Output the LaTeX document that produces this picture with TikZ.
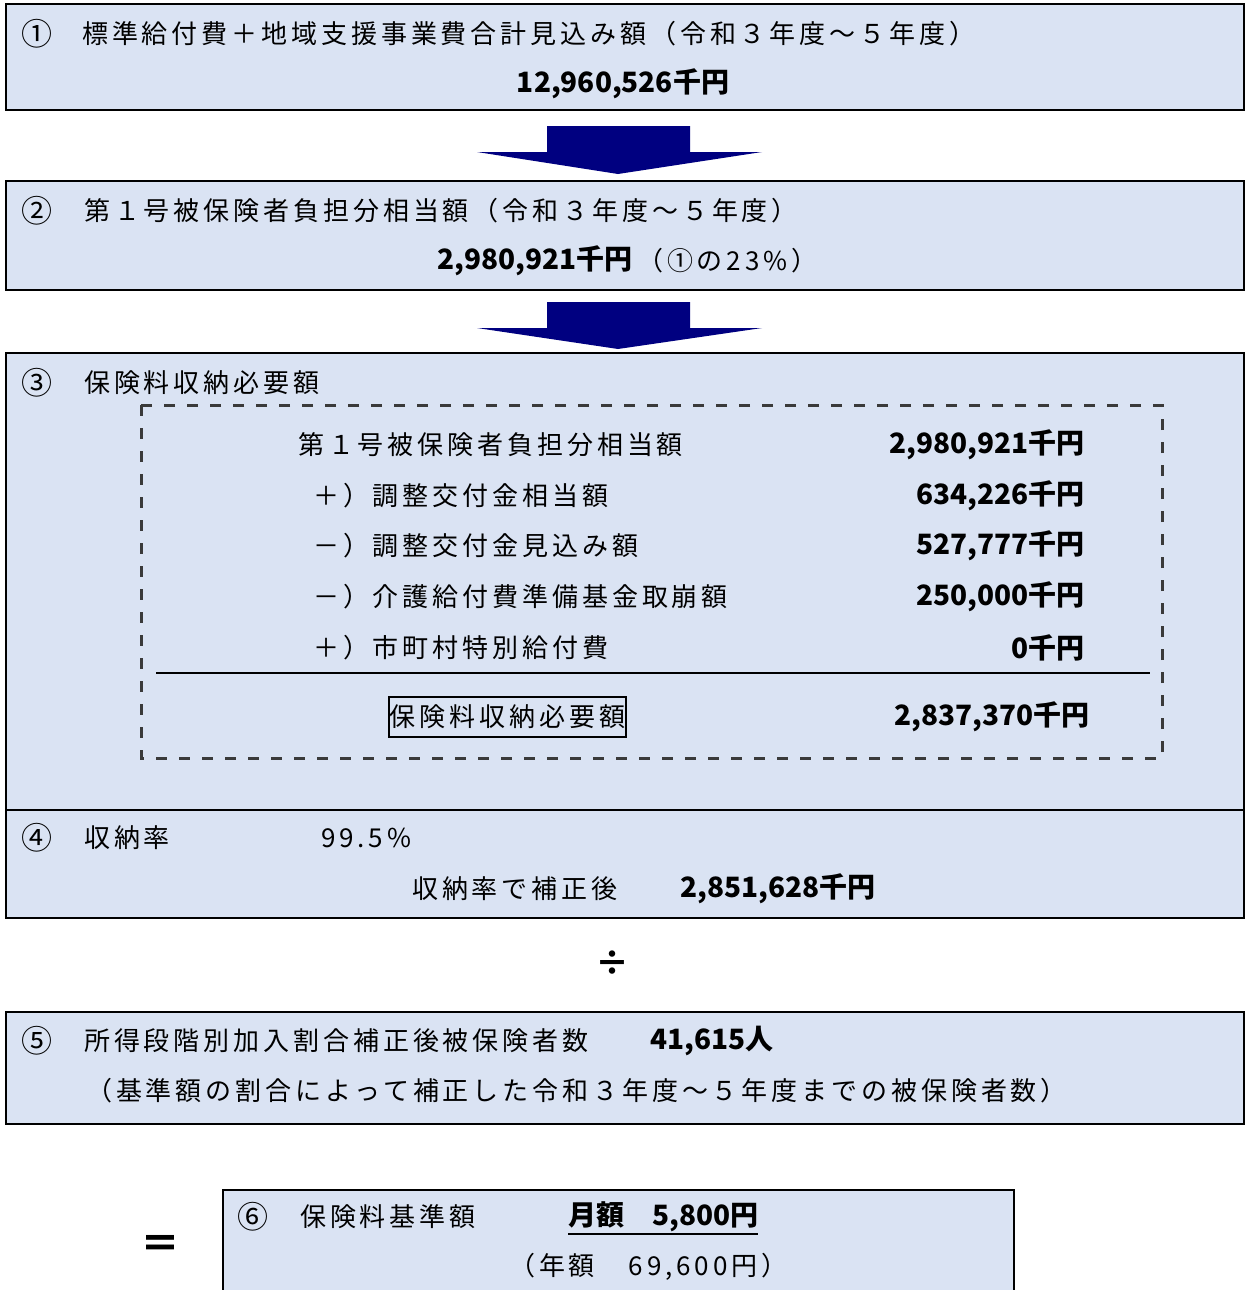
\documentclass[tikz,border=0pt]{standalone}
\usepackage{fontspec}
\newfontfamily\jp{Noto Sans CJK JP}[LetterSpace=15]
\newfontfamily\jpn{Noto Sans CJK JP}
\definecolor{boxfill}{HTML}{DAE3F3}
\definecolor{arrowblue}{HTML}{000080}
\definecolor{dashgray}{HTML}{3A3A3A}
\begin{document}
\begin{tikzpicture}[x=1pt,y=-1pt,
  panel/.style={draw=black, line width=2pt, fill=boxfill},
  txt/.style={anchor=west, inner sep=0pt, font=\jp\fontsize{26}{30}\selectfont},
  circ/.style={anchor=center, inner sep=0pt, font=\jpn\fontsize{31}{34}\selectfont},
  num/.style={anchor=west, inner sep=0pt, font=\jpn\fontsize{28}{32}\selectfont\bfseries},
  numr/.style={num, anchor=east},
  bigarrow/.style={fill=arrowblue, draw=none}]
\useasboundingbox (0,0) rectangle (1245,1290);

% ---- box 1
\draw[panel] (6,4) rectangle (1244,110);
\node[circ] (c1) at (37,34) {①};
\node[txt] (t1) at (82,34) {標準給付費＋地域支援事業費合計見込み額（令和３年度～５年度）};
\node[num, anchor=center] (v1) at (623,84) {12,960,526千円};

% ---- arrow 1
\fill[bigarrow] (547,126) -- (690,126) -- (690,152) -- (762,152) -- (618,174) -- (477,152) -- (547,152) -- cycle;

% ---- box 2
\draw[panel] (6,181) rectangle (1244,290);
\node[circ] (c2) at (37,211) {②};
\node[txt] (t2) at (84,211) {第１号被保険者負担分相当額（令和３年度～５年度）};
\node[numr] (v2) at (633,261) {2,980,921千円};
\node[txt] (p2) at (637,261) {（①の23\%）};

% ---- arrow 2
\fill[bigarrow] (547,302) -- (690,302) -- (690,328) -- (762,328) -- (618,349) -- (477,328) -- (547,328) -- cycle;

% ---- box 3
\draw[panel] (6,353) rectangle (1244,810);
\node[circ] (c3) at (37,383) {③};
\node[txt] (t3) at (84,383) {保険料収納必要額};
\draw[dashgray, line width=3pt, dash pattern=on 11pt off 12pt] (141,405) rectangle (1162,758);

\node[txt] (r1) at (298,445) {第１号被保険者負担分相当額};
\node[numr] (r1v) at (1085,445) {2,980,921千円};
\node[txt] (r2) at (313,496) {＋）調整交付金相当額};
\node[numr] (r2v) at (1085,496) {634,226千円};
\node[txt] (r3) at (313,546) {－）調整交付金見込み額};
\node[numr] (r3v) at (1085,546) {527,777千円};
\node[txt] (r4) at (313,597) {－）介護給付費準備基金取崩額};
\node[numr] (r4v) at (1085,597) {250,000千円};
\node[txt] (r5) at (313,648) {＋）市町村特別給付費};
\node[numr] (r5v) at (1085,648) {0千円};
\draw[black, line width=2pt] (156,673) -- (1150,673);
\node[draw=black, line width=1.6pt, inner xsep=1pt, inner ysep=0pt, minimum height=40pt, anchor=west,
      font=\jp\fontsize{26}{30}\selectfont] (tot) at (388,717) {保険料収納必要額\hspace{-4pt}};
\node[numr] (totv) at (1090,717) {2,837,370千円};

% ---- box 4
\draw[panel] (6,810) rectangle (1244,918);
\node[circ] (c4) at (37,838) {④};
\node[txt] (t4) at (84,838) {収納率};
\node[txt] (t4r) at (321,838) {99.5\%};
\node[txt] (t4b) at (412,889) {収納率で補正後};
\node[num] (v4) at (680,889) {2,851,628千円};

% ---- divide sign
\node[num, anchor=center, font=\jpn\fontsize{34}{36}\selectfont\bfseries] (div) at (612,963) {÷};

% ---- box 5
\draw[panel] (6,1012) rectangle (1244,1124);
\node[circ] (c5) at (37,1041) {⑤};
\node[txt] (t5) at (84,1041) {所得段階別加入割合補正後被保険者数};
\node[num] (v5) at (650,1041) {41,615人};
\node[txt] (t5b) at (86,1091) {（基準額の割合によって補正した令和３年度～５年度までの被保険者数）};

% ---- equals sign
\node[num, anchor=center, font=\jpn\fontsize{40}{44}\selectfont\bfseries] (eq) at (160,1247) {＝};

% ---- box 6
\draw[panel] (223,1190) rectangle (1014,1310);
\node[circ] (c6) at (253,1217) {⑥};
\node[txt] (t6) at (300,1217) {保険料基準額};
\node[num] (m6) at (568,1217) {月額　5,800円};
\draw[black, line width=2pt] ([yshift=-2pt]m6.south west) -- ([yshift=-2pt]m6.south east);
\node[txt] (y6) at (509,1267) {（年額　69,600円）};
\end{tikzpicture}
\end{document}
